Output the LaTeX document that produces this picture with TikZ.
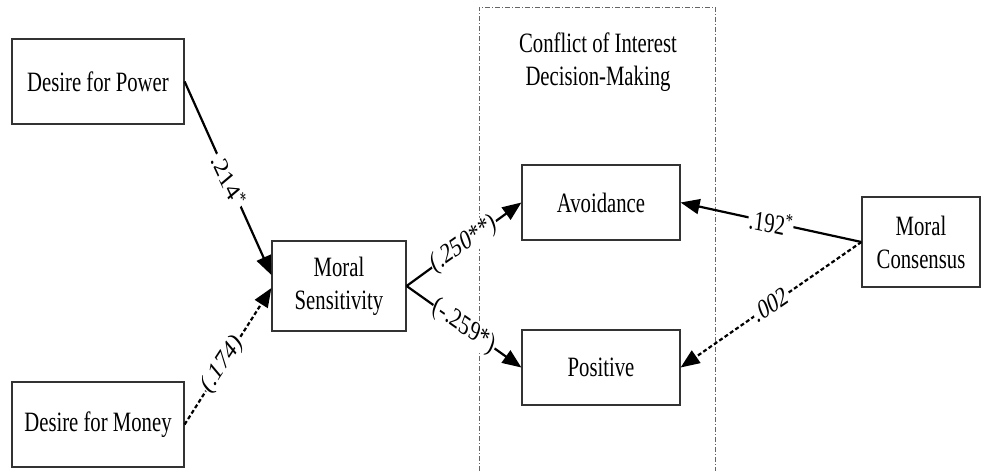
\documentclass[tikz,border=0pt]{standalone}
\usepackage{fontspec}
\setmainfont{Liberation Serif}
\newfontfamily\boxfont{Liberation Serif}[FakeStretch=0.74]
\usetikzlibrary{arrows.meta}
\definecolor{boxgray}{HTML}{333333}
\definecolor{framegray}{HTML}{666666}
\begin{document}
\begin{tikzpicture}[x=1pt,y=-1pt,
  box/.style={draw=boxgray, line width=1.2pt, inner sep=0pt, align=center,
    font=\boxfont\fontsize{28}{33}\selectfont},
  lbl/.style={fill=white, inner sep=1pt, font=\fontsize{28}{33}\selectfont},
  conn/.style={line width=2.2pt, -{Triangle[length=19pt,width=15pt]}},
  dotconn/.style={conn, dash pattern=on 4pt off 2.5pt},
  frame/.style={draw=framegray, line width=1pt, dash pattern=on 5pt off 2pt on 1pt off 2pt}]
\useasboundingbox (0,0) rectangle (982,471);

% frame of the decision-making block
\draw[frame] (479,471) -- (479,7) -- (715,7) -- (715,471);
\node[align=center, font=\boxfont\fontsize{28}{33}\selectfont] (title) at (598,62)
  {Conflict of Interest\\Decision-Making};

% boxes
\node[box, minimum width=172pt, minimum height=85pt] (power) at (98,81.5) {Desire for Power};
\node[box, minimum width=172pt, minimum height=85pt] (money) at (98,424.5) {Desire for Money};
\node[box, minimum width=134pt, minimum height=90pt] (ms) at (339,286) {Moral\\Sensitivity};
\node[box, minimum width=158pt, minimum height=75pt] (avoid) at (601,202.5) {Avoidance};
\node[box, minimum width=158pt, minimum height=75pt] (pos) at (601,367.5) {Positive};
\node[box, minimum width=118pt, minimum height=90pt] (cons) at (921,242) {Moral\\Consensus};

% connectors
\draw[conn] (power.east) --
  node[lbl, pos=.51, cm={0.392,-0.848,0.628,0.530,(0,0)}] (l1) {.214\textsuperscript{*}}
  ([yshift=11pt]ms.west);
\draw[dotconn] (money.east) --
  node[lbl, pos=.44, cm={0.489,0.750,-0.555,0.661,(0,0)}] (l2) {(.174)}
  ([yshift=-2pt]ms.west);
\draw[conn] (ms.east) --
  node[lbl, pos=.5, cm={0.656,0.463,-0.343,0.886,(0,0)}] (l3) {(.250**)}
  (avoid.west);
\draw[conn] (ms.east) --
  node[lbl, pos=.5, cm={0.658,-0.459,0.340,0.889,(0,0)}] (l4) {(-.259*)}
  (pos.west);
\draw[conn] (cons.west) --
  node[lbl, pos=.5, cm={0.731,-0.157,0.116,0.988,(0,0)}] (l5) {.192\textsuperscript{*}}
  (avoid.east);
\draw[dotconn] (cons.west) --
  node[lbl, pos=.5, cm={0.660,0.452,-0.335,0.892,(0,0)}] (l6) {.002}
  (pos.east);
\end{tikzpicture}
\end{document}
